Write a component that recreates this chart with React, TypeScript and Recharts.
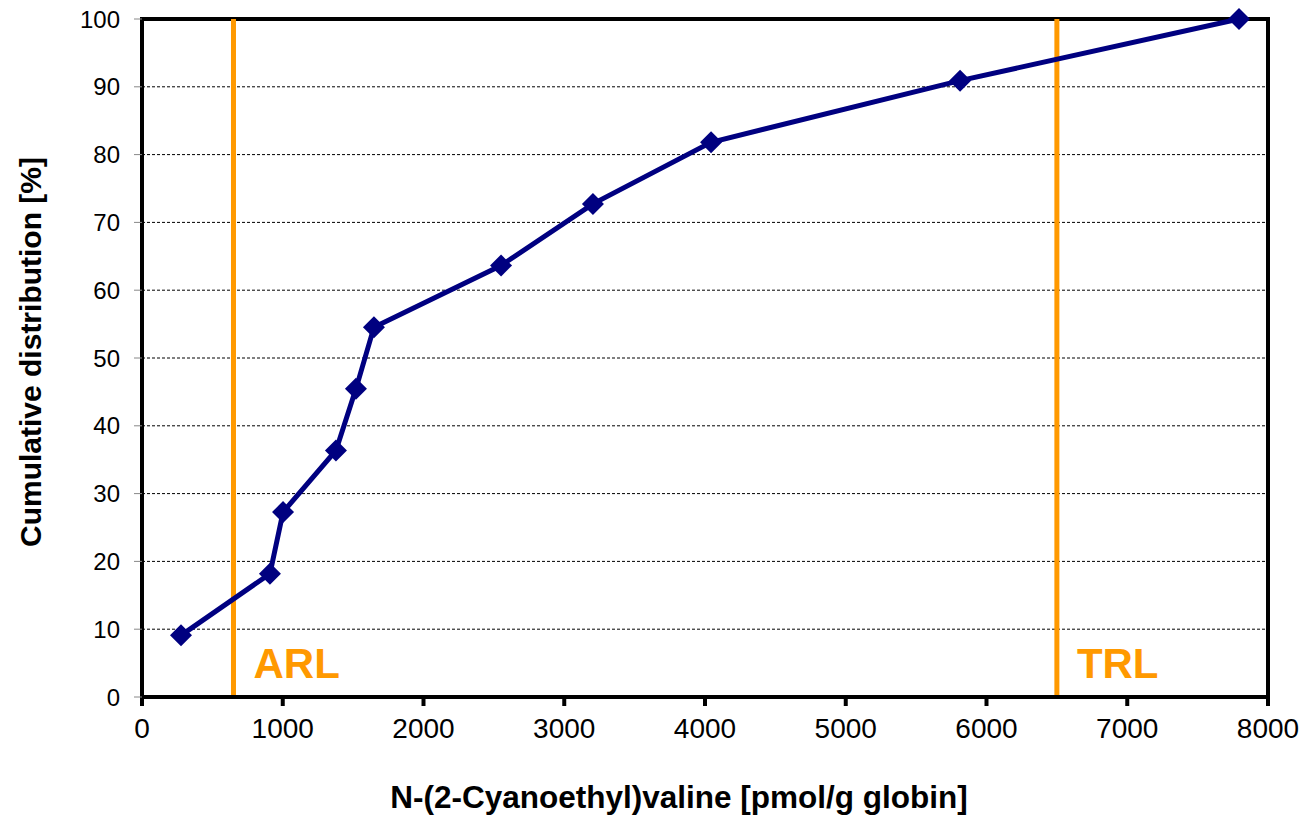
import React from 'react';
import {
  LineChart,
  Line,
  XAxis,
  YAxis,
  CartesianGrid,
  ReferenceLine,
  ReferenceArea,
  Label,
} from 'recharts';

const cyanoethylValine = [277, 909, 1002, 1378, 1520, 1648, 2551, 3204, 4043, 5812, 7794];
const cumulativePct = [9.09, 18.18, 27.27, 36.36, 45.45, 54.55, 63.64, 72.73, 81.82, 90.91, 100];
const xTicks = [0, 1000, 2000, 3000, 4000, 5000, 6000, 7000, 8000];
const yTicks = [0, 10, 20, 30, 40, 50, 60, 70, 80, 90, 100];
const limitNames = ['ARL', 'TRL'];
const limitValues = [650, 6500];

const data = cyanoethylValine.map((x, i) => ({ x, y: cumulativePct[i] }));

const FONT = 'Arial, "Liberation Sans", sans-serif';
const NAVY = '#000080';
const ORANGE = '#FF9900';

const Diamond = (props: any) => {
  const { cx, cy } = props;
  if (cx == null || cy == null) return null;
  const r = 11;
  return (
    <path
      d={`M ${cx} ${cy - r} L ${cx + r} ${cy} L ${cx} ${cy + r} L ${cx - r} ${cy} Z`}
      fill={NAVY}
      stroke="none"
    />
  );
};

export default function App() {
  return (
    <div style={{ position: 'absolute', left: 0, top: 0, background: '#fff' }}>
      <LineChart
        width={1305}
        height={838}
        data={data}
        margin={{ top: 19, right: 37, left: 0, bottom: 0 }}
      >
        <CartesianGrid
          vertical={false}
          horizontal={true}
          stroke="#000"
          strokeDasharray="3 2"
          strokeWidth={1}
        />
        <XAxis
          dataKey="x"
          type="number"
          domain={[0, 8000]}
          ticks={xTicks}
          height={141}
          tickSize={9}
          tickMargin={12}
          axisLine={{ stroke: '#000', strokeWidth: 4 }}
          tickLine={{ stroke: '#000', strokeWidth: 4 }}
          tick={{ fill: '#000', fontSize: 28, fontFamily: FONT }}
          interval={0}
        >
          <Label
            content={(p: any) => {
              const vb = p.viewBox || {};
              return (
                <text
                  x={vb.x + vb.width / 2 - 26}
                  y={vb.y + vb.height - 30}
                  textAnchor="middle"
                  fill="#000"
                  fontSize={31.5}
                  fontWeight="bold"
                  fontFamily={FONT}
                >
                  N-(2-Cyanoethyl)valine [pmol/g globin]
                </text>
              );
            }}
          />
        </XAxis>
        <YAxis
          type="number"
          domain={[0, 100]}
          ticks={yTicks}
          width={142}
          tickSize={8}
          tickMargin={14}
          axisLine={{ stroke: '#000', strokeWidth: 4 }}
          tickLine={{ stroke: '#888', strokeWidth: 1 }}
          tick={{ fill: '#000', fontSize: 24, fontFamily: FONT }}
          interval={0}
        >
          <Label
            content={(p: any) => {
              const vb = p.viewBox || {};
              const cx = 30;
              const cy = vb.y + vb.height / 2 - 6;
              return (
                <text
                  x={cx}
                  y={cy}
                  transform={`rotate(-90, ${cx}, ${cy})`}
                  textAnchor="middle"
                  dominantBaseline="central"
                  fill="#000"
                  fontSize={30}
                  fontWeight="bold"
                  fontFamily={FONT}
                >
                  Cumulative distribution [%]
                </text>
              );
            }}
          />
        </YAxis>
        <ReferenceArea
          x1={0}
          x2={8000}
          y1={0}
          y2={100}
          fill="none"
          fillOpacity={0}
          stroke="#000"
          strokeWidth={4}
        />
        {limitValues.map((v, i) => (
          <ReferenceLine
            key={limitNames[i]}
            x={v}
            stroke={ORANGE}
            strokeWidth={5}
            label={(p: any) => {
              const vb = p.viewBox || {};
              return (
                <text
                  x={vb.x + 20}
                  y={vb.y + vb.height - 19}
                  fill={ORANGE}
                  fontSize={42}
                  fontWeight="bold"
                  fontFamily={FONT}
                >
                  {limitNames[i]}
                </text>
              );
            }}
          />
        ))}
        <Line
          type="linear"
          dataKey="y"
          stroke={NAVY}
          strokeWidth={5}
          dot={<Diamond />}
          activeDot={false}
          isAnimationActive={false}
        />
      </LineChart>
    </div>
  );
}
